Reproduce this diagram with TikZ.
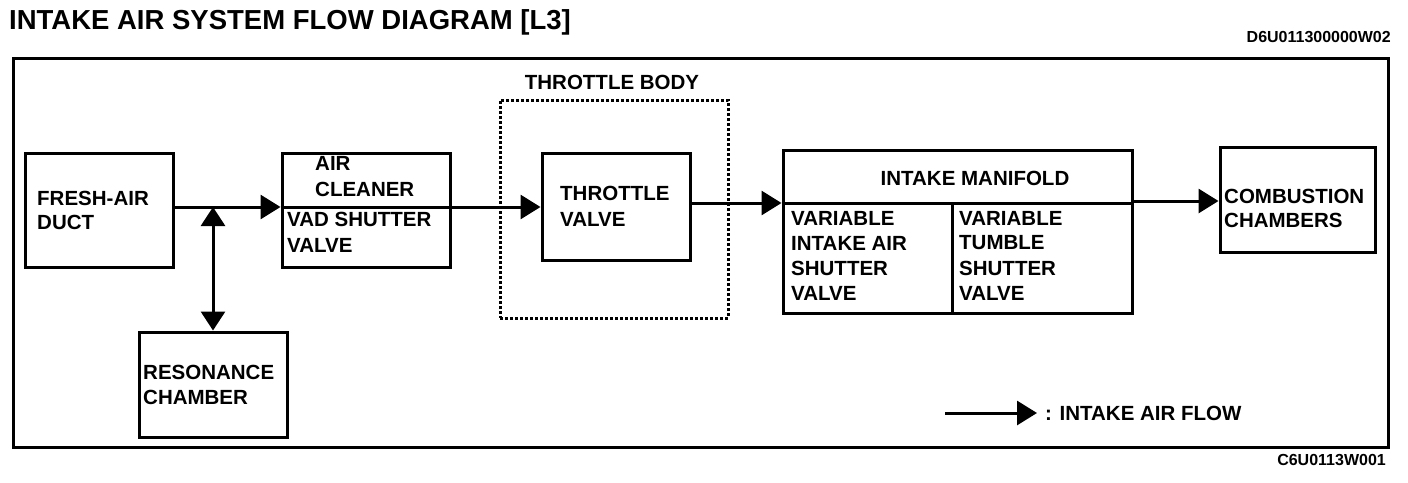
\documentclass[tikz,border=0pt]{standalone}
\usepackage{fontspec}
\setmainfont{Liberation Sans}
\usetikzlibrary{arrows.meta}
\begin{document}
\begin{tikzpicture}[x=1pt,y=-1pt,
  box/.style={draw, line width=3pt, inner sep=0pt},
  dbox/.style={draw, line width=3pt, dash pattern=on 3pt off 2pt, inner sep=0pt},
  lbl/.style={inner sep=0pt, anchor=west, font=\fontsize{20.5}{25}\selectfont\bfseries},
  flow/.style={line width=3pt, -{Triangle[length=20pt,width=24pt]}},
  both/.style={line width=3pt, {Triangle[length=19pt,width=24pt]}-{Triangle[length=19pt,width=24pt]}}
]
\useasboundingbox (0,0) rectangle (1408,482);
% titles
\node[inner sep=0pt, anchor=west, font=\fontsize{27.5}{30}\selectfont\bfseries] (title) at (9,22) {INTAKE AIR SYSTEM FLOW DIAGRAM [L3]};
\node[inner sep=0pt, anchor=east, font=\fontsize{16}{18}\selectfont\bfseries] (code1) at (1391,37) {D6U011300000W02};
\node[inner sep=0pt, anchor=east, font=\fontsize{16}{18}\selectfont\bfseries] (code2) at (1386,460) {C6U0113W001};
% frame
\node[box, minimum width=1375pt, minimum height=389pt] (frame) at (700.5,252.5) {};
% boxes
\node[box, minimum width=148pt, minimum height=114pt] (fresh) at (99,210) {};
\node[box, minimum width=168pt, minimum height=114pt] (ac) at (366,210) {};
\node[dbox, minimum width=228pt, minimum height=218pt] (tb) at (614,209) {};
\node[box, minimum width=148pt, minimum height=107pt] (tv) at (616,206.5) {};
\node[box, minimum width=349pt, minimum height=163pt] (im) at (957.5,231.5) {};
\node[box, minimum width=155pt, minimum height=105pt] (cc) at (1297.5,199.5) {};
\node[box, minimum width=148pt, minimum height=105pt] (rc) at (213,384.5) {};
% flow levels
\coordinate (y1) at (0,207);
\coordinate (y2) at (0,203);
\coordinate (y3) at (0,201);
\coordinate (jn) at (213,207);
\coordinate (xm) at (952,0);
% dividers
\draw[line width=3pt] (ac.west |- y1) -- (ac.east |- y1);
\draw[line width=3pt] (im.west |- y2) -- (im.east |- y2);
\draw[line width=3pt] (xm |- y2) -- (xm |- im.south);
% labels
\node[lbl] (t1a) at (37,198) {FRESH-AIR};
\node[lbl] (t1b) at (37,222) {DUCT};
\node[lbl] (t2a) at (315,163) {AIR};
\node[lbl] (t2b) at (315,189) {CLEANER};
\node[lbl] (t2c) at (287,219) {VAD SHUTTER};
\node[lbl] (t2d) at (287,245) {VALVE};
\node[inner sep=0pt, font=\fontsize{20.5}{25}\selectfont\bfseries] (t3) at (612,82) {THROTTLE BODY};
\node[lbl] (t4a) at (560,193) {THROTTLE};
\node[lbl] (t4b) at (560,219) {VALVE};
\node[inner sep=0pt, font=\fontsize{20.5}{25}\selectfont\bfseries] (t5) at (975,178) {INTAKE MANIFOLD};
\node[lbl] (t6a) at (791,218) {VARIABLE};
\node[lbl] (t6b) at (791,243) {INTAKE AIR};
\node[lbl] (t6c) at (791,268) {SHUTTER};
\node[lbl] (t6d) at (791,293) {VALVE};
\node[lbl] (t7a) at (959,218) {VARIABLE};
\node[lbl] (t7b) at (959,243) {TUMBLE};
\node[lbl] (t7c) at (959,268) {SHUTTER};
\node[lbl] (t7d) at (959,293) {VALVE};
\node[lbl] (t8a) at (1224,196) {COMBUSTION};
\node[lbl] (t8b) at (1224,220) {CHAMBERS};
\node[lbl] (t9a) at (143,372) {RESONANCE};
\node[lbl] (t9b) at (143,397) {CHAMBER};
% connectors
\draw[flow] (fresh.east |- y1) -- (ac.west |- y1);
\draw[flow] (ac.east |- y1) -- (tv.west |- y1);
\draw[flow] (tv.east |- y2) -- (im.west |- y2);
\draw[flow] (im.east |- y3) -- (cc.west |- y3);
\draw[both] (jn) -- (rc.north);
% legend
\coordinate (ls) at (945,413);
\node[lbl] (leg) at (1045,413) {: INTAKE AIR FLOW};
\draw[flow, shorten >=8pt] (ls) -- (leg.west);
\end{tikzpicture}
\end{document}
